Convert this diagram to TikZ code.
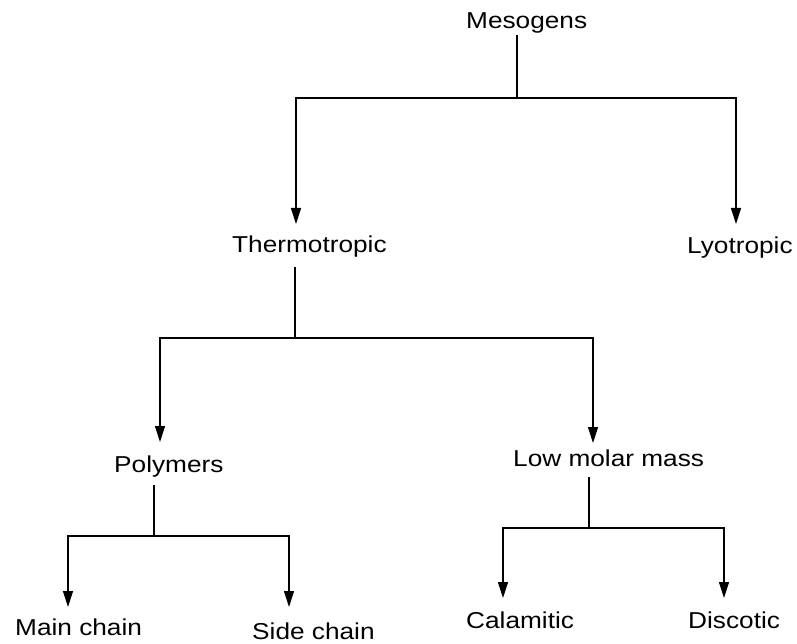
\documentclass[tikz,border=0pt]{standalone}
\usepackage{fontspec}
\setmainfont{Liberation Sans}
\usetikzlibrary{arrows.meta}
\newcommand\lbltxt[1]{\scalebox{1.14}[1]{#1}}
\tikzset{
  lbl/.style={anchor=base west, inner sep=0pt, font=\fontsize{23}{27}\selectfont},
  link/.style={line width=1.2pt, draw=black},
  arr/.style={link, -{Triangle[length=16pt,width=10pt]}}
}
\begin{document}
\begin{tikzpicture}[x=1pt,y=-1pt]
\useasboundingbox (0,0) rectangle (797,644);
% nodes
\node[lbl] (mes)   at (466,29)  {\lbltxt{Mesogens}};
\node[lbl] (therm) at (232,252) {\lbltxt{Thermotropic}};
\node[lbl] (lyo)   at (687,254) {\lbltxt{Lyotropic}};
\node[lbl] (poly)  at (114,472) {\lbltxt{Polymers}};
\node[lbl] (low)   at (513,466) {\lbltxt{Low molar mass}};
\node[lbl] (main)  at (15,635)  {\lbltxt{Main chain}};
\node[lbl] (side)  at (252,639) {\lbltxt{Side chain}};
\node[lbl] (cal)   at (466,628) {\lbltxt{Calamitic}};
\node[lbl] (disc)  at (688,628) {\lbltxt{Discotic}};
% junction coordinates
\coordinate (s1) at (517,35);  \coordinate (j1) at (517,98);
\coordinate (tT) at (296,224); \coordinate (tL) at (736,224);
\coordinate (s2) at (295,267); \coordinate (j2) at (295,338);
\coordinate (tP) at (160,442); \coordinate (tM) at (593,443);
\coordinate (s3) at (154,485); \coordinate (j3) at (154,536);
\coordinate (tMc) at (68,607); \coordinate (tSc) at (289,607);
\coordinate (s4) at (589,477); \coordinate (j4) at (589,528);
\coordinate (tC) at (503,598); \coordinate (tD) at (724,598);
% connectors
\draw[link] (s1) -- (j1);
\draw[arr] (j1) -| (tT);
\draw[arr] (j1) -| (tL);
\draw[link] (s2) -- (j2);
\draw[arr] (j2) -| (tP);
\draw[arr] (j2) -| (tM);
\draw[link] (s3) -- (j3);
\draw[arr] (j3) -| (tMc);
\draw[arr] (j3) -| (tSc);
\draw[link] (s4) -- (j4);
\draw[arr] (j4) -| (tC);
\draw[arr] (j4) -| (tD);
\end{tikzpicture}
\end{document}
